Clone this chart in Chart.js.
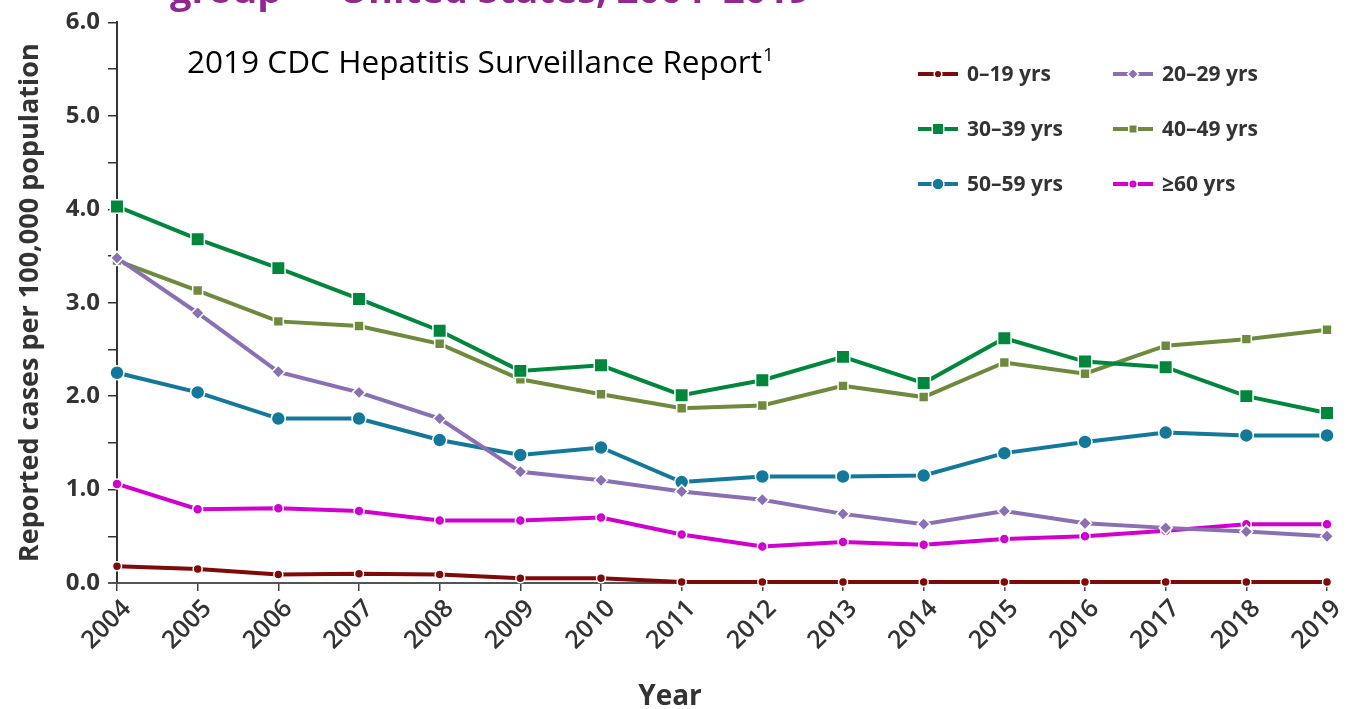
<!DOCTYPE html>
<html>
<head>
<meta charset="utf-8">
<title>Hepatitis rates by age group</title>
<script src="https://cdn.jsdelivr.net/npm/chart.js@4.4.1/dist/chart.umd.min.js"></script>
<style>
    html, body { margin: 0; padding: 0; background: #fff; overflow: hidden; }
    #wrap { position: relative; width: 1347px; height: 709px; }
</style>
</head>
<body>
<div id="wrap"><canvas id="hepChart"></canvas></div>
<script>
// Data
const years = ['2004', '2005', '2006', '2007', '2008', '2009', '2010', '2011',
               '2012', '2013', '2014', '2015', '2016', '2017', '2018', '2019'];

const age0to19  = [0.18, 0.15, 0.09, 0.10, 0.09, 0.05, 0.05, 0.01, 0.01, 0.01, 0.01, 0.01, 0.01, 0.01, 0.01, 0.01];
const age20to29 = [3.48, 2.89, 2.26, 2.04, 1.76, 1.19, 1.10, 0.98, 0.89, 0.74, 0.63, 0.77, 0.64, 0.59, 0.55, 0.50];
const age30to39 = [4.03, 3.68, 3.37, 3.04, 2.70, 2.27, 2.33, 2.01, 2.17, 2.42, 2.14, 2.62, 2.37, 2.31, 2.00, 1.82];
const age40to49 = [3.45, 3.13, 2.80, 2.75, 2.56, 2.18, 2.02, 1.87, 1.90, 2.11, 1.99, 2.36, 2.24, 2.54, 2.61, 2.71];
const age50to59 = [2.25, 2.04, 1.76, 1.76, 1.53, 1.37, 1.45, 1.08, 1.14, 1.14, 1.15, 1.39, 1.51, 1.61, 1.58, 1.58];
const age60plus = [1.06, 0.79, 0.80, 0.77, 0.67, 0.67, 0.70, 0.52, 0.39, 0.44, 0.41, 0.47, 0.50, 0.56, 0.63, 0.63];

const yTickLabels = ['0.0', '1.0', '2.0', '3.0', '4.0', '5.0', '6.0'];

const seriesLabels = ['0–19 yrs', '20–29 yrs', '30–39 yrs', '40–49 yrs', '50–59 yrs', '≥60 yrs'];

const TEXT = '#333333';
const FONT = '"Open Sans", Lato, sans-serif';

function series(label, data, color, style, radius) {
    return {
        label: label,
        data: data,
        borderColor: color,
        backgroundColor: color,
        borderWidth: 4,
        pointStyle: style,
        pointRadius: radius,
        pointHoverRadius: radius,
        pointBackgroundColor: color,
        pointBorderColor: '#ffffff',
        pointBorderWidth: 1.5,
        tension: 0,
        clip: false
    };
}

// Legend in two columns, drawn onto the canvas
const ageLegend = {
    id: 'ageLegend',
    afterDraw(chart) {
        const ctx = chart.ctx;
        const colX = [918, 1113];
        const rowY = [74, 129, 184];
        ctx.save();
        chart.data.datasets.forEach((ds, i) => {
            const x0 = colX[i % 2];
            const y = rowY[Math.floor(i / 2)];
            ctx.strokeStyle = ds.borderColor;
            ctx.lineWidth = 4;
            ctx.beginPath();
            ctx.moveTo(x0, y);
            ctx.lineTo(x0 + 40, y);
            ctx.stroke();
            ctx.fillStyle = ds.borderColor;
            ctx.strokeStyle = '#ffffff';
            ctx.lineWidth = 1.5;
            Chart.helpers.drawPoint(ctx, {
                pointStyle: ds.pointStyle,
                radius: ds.pointRadius * 0.85,
                rotation: 0,
                borderWidth: 1.5
            }, x0 + 20, y);
            ctx.fillStyle = TEXT;
            ctx.font = 'bold 21px ' + FONT;
            ctx.textBaseline = 'middle';
            ctx.textAlign = 'left';
            ctx.fillText(ds.label, x0 + 49, y + 1);
        });
        ctx.restore();
    }
};

// Cropped slide title, source note, x axis title and the axis stub left of 0
const headings = {
    id: 'headings',
    afterDraw(chart) {
        const ctx = chart.ctx;
        const area = chart.chartArea;
        ctx.save();

        // x axis line runs a little past the y axis
        ctx.strokeStyle = '#555555';
        ctx.lineWidth = 2;
        ctx.beginPath();
        ctx.moveTo(area.left - 9, area.bottom);
        ctx.lineTo(area.left, area.bottom);
        ctx.stroke();

        ctx.textAlign = 'left';
        ctx.textBaseline = 'alphabetic';

        // slide title, mostly cut off by the top edge
        ctx.fillStyle = '#92278F';
        ctx.font = 'bold 36px ' + FONT;
        const head = 'group — United States, 2004–2019';
        const hw = ctx.measureText(head).width;
        ctx.save();
        ctx.translate(170, 3);
        ctx.scale(640 / hw, 1);
        ctx.fillText(head, 0, 0);
        ctx.restore();

        ctx.fillStyle = '#000000';
        ctx.font = '31px ' + FONT;
        const note = '2019 CDC Hepatitis Surveillance Report';
        const nw = ctx.measureText(note).width;
        ctx.save();
        ctx.translate(187, 73);
        ctx.scale(575 / nw, 1);
        ctx.fillText(note, 0, 0);
        ctx.restore();
        ctx.font = '19px ' + FONT;
        ctx.fillText('1', 187 + 575 + 1, 61);

        ctx.fillStyle = TEXT;
        ctx.font = 'bold 28px ' + FONT;
        ctx.textAlign = 'center';
        ctx.fillText('Year', 670, 705);
        ctx.restore();
    }
};

const ctx = document.getElementById('hepChart');

const hepChart = new Chart(ctx, {
    type: 'line',
    data: {
        labels: years,
        datasets: [
            series(seriesLabels[0], age0to19,  '#7f0a0a', 'circle',  4.5),
            series(seriesLabels[1], age20to29, '#8b6fb3', 'rectRot', 6.5),
            series(seriesLabels[2], age30to39, '#00873c', 'rect',    9.5),
            series(seriesLabels[3], age40to49, '#6e8a3c', 'rect',    7),
            series(seriesLabels[4], age50to59, '#13789a', 'circle',  7),
            series(seriesLabels[5], age60plus, '#d100d1', 'circle',  5)
        ]
    },
    options: {
        responsive: true,
        maintainAspectRatio: false,
        animation: false,
        layout: {
            padding: { top: 18, right: 20, left: 0, bottom: 0 }
        },
        plugins: {
            legend: { display: false },
            tooltip: { enabled: false }
        },
        scales: {
            x: {
                offset: false,
                grid: {
                    drawOnChartArea: false,
                    drawTicks: true,
                    tickLength: 8,
                    color: '#444444',
                    lineWidth: 1.5
                },
                border: { display: true, color: '#555555', width: 2 },
                ticks: {
                    color: TEXT,
                    font: { family: FONT, weight: '600', size: 25 },
                    minRotation: 45,
                    maxRotation: 45,
                    padding: 3,
                    labelOffset: 10
                },
                afterFit: function(scale) {
                    scale.height = 126;
                    scale.paddingLeft = 0;
                    scale.paddingRight = 0;
                }
            },
            y: {
                min: 0,
                max: 6,
                grid: {
                    drawOnChartArea: false,
                    drawTicks: true,
                    tickLength: 9,
                    color: '#333333',
                    lineWidth: 1.5
                },
                border: { display: true, color: '#333333', width: 2 },
                ticks: {
                    stepSize: 0.5,
                    color: TEXT,
                    font: { family: FONT, weight: 'bold', size: 24 },
                    padding: 8,
                    callback: function(value) {
                        return Number.isInteger(value) ? yTickLabels[value] : '';
                    }
                },
                title: {
                    display: true,
                    text: 'Reported cases per 100,000 population',
                    color: TEXT,
                    font: { family: FONT, weight: 'bold', size: 27 },
                    padding: { top: 14, bottom: 0 }
                },
                afterFit: function(scale) {
                    scale.width = 117;
                }
            }
        }
    },
    plugins: [ageLegend, headings]
});
</script>
</body>
</html>
